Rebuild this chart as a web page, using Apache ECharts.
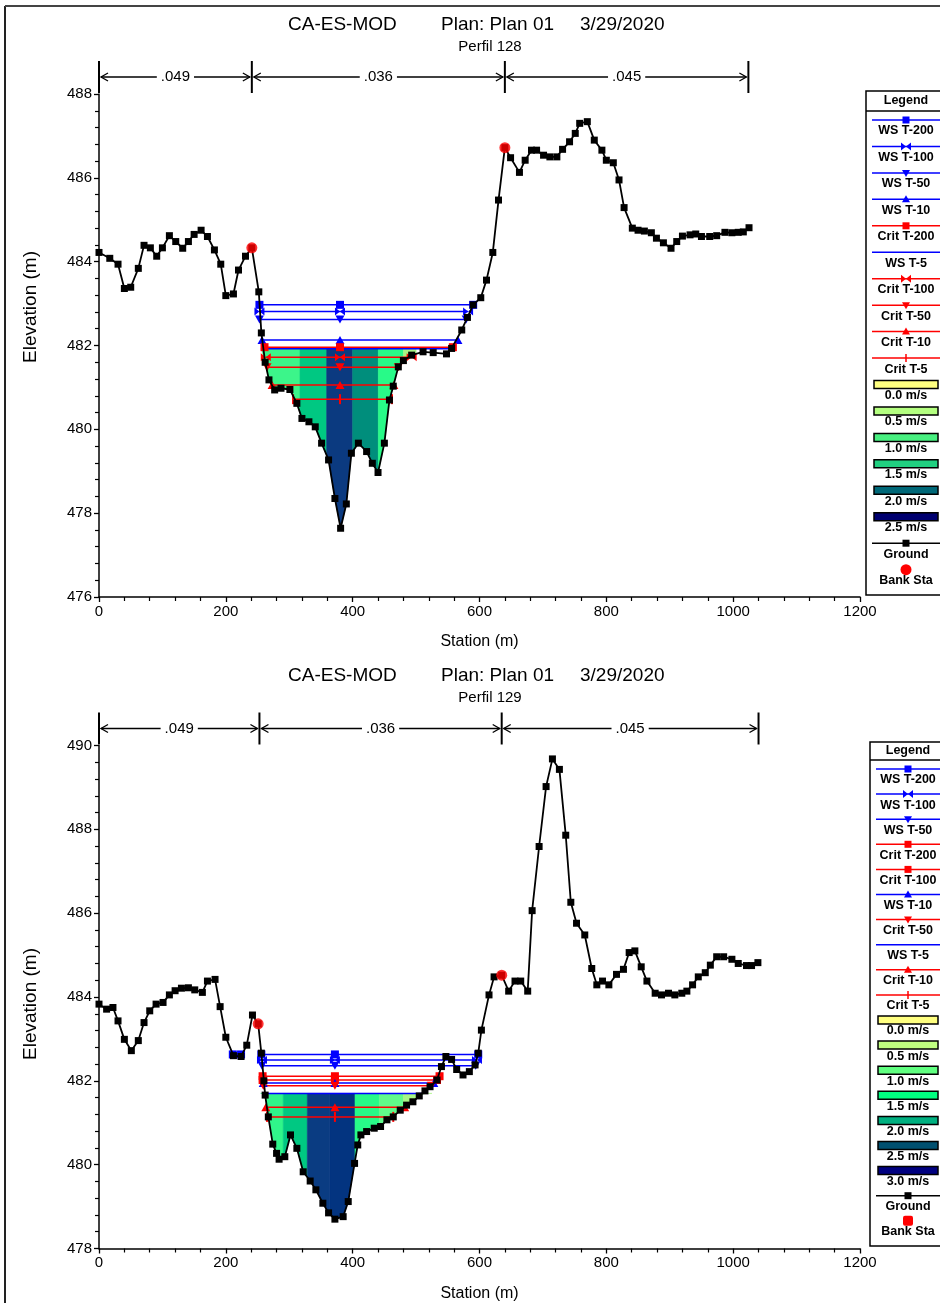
<!DOCTYPE html>
<html><head><meta charset="utf-8">
<script src="https://cdn.jsdelivr.net/npm/echarts@6/dist/echarts.min.js"></script>
<style>html,body{margin:0;padding:0;background:#fff}#c{width:940px;height:1303px}</style>
</head><body><div id="c"></div>
<script>
// ---------------- DATA ----------------
const titleParts = ['CA-ES-MOD', 'Plan: Plan 01', '3/29/2020'];
const subtitles = ['Perfil 128', 'Perfil 129'];
const xAxisName = 'Station (m)';
const yAxisName = 'Elevation (m)';
const xRange = [0, 1200, 200];
const yRangeTop = [476, 488, 2];
const yRangeBot = [478, 490, 2];

// Perfil 128 ground [station, elevation]
const groundTop = [[0,484.22],[17,484.08],[30,483.94],[40,483.36],[50,483.39],[62,483.84],[71,484.39],[81,484.33],[91,484.13],[100,484.33],[111,484.62],[121,484.48],[132,484.32],[141,484.48],[150,484.65],[161,484.75],[171,484.6],[182,484.28],[192,483.94],[200,483.19],[212,483.23],[220,483.8],[231,484.13],[241,484.33],[252,483.28],[256,482.3],[262,481.6],[268,481.18],[277,480.94],[287,480.98],[301,480.95],[312,480.62],[320,480.26],[331,480.18],[341,480.06],[351,479.67],[362,479.27],[372,478.35],[381,477.64],[390,478.22],[398,479.43],[409,479.67],[422,479.47],[431,479.19],[440,478.97],[450,479.67],[458,480.7],[464,481.03],[472,481.49],[480,481.64],[493,481.77],[511,481.85],[527,481.83],[548,481.8],[556,481.93],[572,482.37],[581,482.67],[590,482.97],[602,483.14],[611,483.56],[621,484.22],[630,485.47],[640,486.72],[649,486.48],[663,486.13],[672,486.42],[682,486.66],[690,486.66],[701,486.54],[711,486.5],[722,486.5],[731,486.68],[742,486.86],[751,487.06],[758,487.3],[770,487.34],[781,486.9],[793,486.66],[800,486.42],[811,486.36],[820,485.95],[828,485.29],[841,484.8],[850,484.75],[860,484.73],[871,484.69],[879,484.56],[890,484.45],[902,484.32],[911,484.48],[920,484.61],[932,484.64],[941,484.66],[950,484.6],[963,484.6],[974,484.62],[987,484.7],[998,484.69],[1008,484.7],[1016,484.71],[1025,484.81]];
const bankTop = [[241,484.33],[640,486.72]];
const nStaTop = [0, 241, 640, 1024];
const nValTop = ['.049', '.036', '.045'];
const profNamesTop = ['WS T-200','WS T-100','WS T-50','WS T-10','Crit T-200','WS T-5','Crit T-100','Crit T-50','Crit T-10','Crit T-5'];
const profElevTop  = [482.97, 482.81, 482.62, 482.13, 481.96, 481.92, 481.72, 481.48, 481.06, 480.72];
const profLeftTop  = [253, 253, 253, 257, 261, 262, 263, 265, 273, 306];
const profRightTop = [590, 582, 579, 566, 558, 556, 493, 472, 465, 462];
const profMidTop = 380;
const velLevelTop = 481.92;
const velEdgesTop = [255, 317, 359, 400, 440.5, 480, 500];
const velLegendTop = ['0.0 m/s','0.5 m/s','1.0 m/s','1.5 m/s','2.0 m/s','2.5 m/s'];

// Perfil 129 ground
const groundBot = [[0,483.83],[12,483.71],[22,483.75],[30,483.43],[40,482.99],[51,482.72],[62,482.96],[71,483.39],[80,483.67],[90,483.83],[101,483.87],[111,484.05],[120,484.15],[130,484.21],[141,484.22],[151,484.17],[163,484.11],[171,484.38],[183,484.42],[191,483.77],[200,483.04],[212,482.6],[224,482.58],[233,482.85],[242,483.57],[251,483.36],[256,482.66],[260,482.0],[262,481.66],[267,481.14],[274,480.49],[280,480.27],[284,480.13],[293,480.19],[302,480.71],[312,480.39],[322,479.83],[333,479.61],[342,479.4],[353,479.08],[362,478.85],[372,478.7],[385,478.76],[393,479.12],[403,480.03],[408,480.47],[413,480.71],[422,480.79],[434,480.87],[444,480.91],[454,481.07],[464,481.14],[475,481.3],[485,481.42],[495,481.5],[505,481.64],[514,481.76],[522,481.86],[533,482.02],[540,482.34],[547,482.58],[556,482.51],[564,482.27],[574,482.14],[584,482.22],[593,482.38],[598,482.66],[603,483.21],[615,484.05],[623,484.48],[635,484.52],[646,484.14],[656,484.38],[665,484.38],[676,484.14],[683,486.06],[694,487.59],[705,489.02],[715,489.68],[726,489.43],[736,487.86],[744,486.26],[753,485.76],[766,485.48],[777,484.68],[785,484.29],[794,484.38],[804,484.29],[816,484.54],[827,484.66],[836,485.06],[845,485.1],[855,484.72],[864,484.38],[877,484.09],[887,484.05],[898,484.09],[908,484.05],[919,484.09],[927,484.14],[936,484.29],[945,484.48],[956,484.58],[964,484.76],[974,484.96],[985,484.96],[998,484.9],[1008,484.8],[1021,484.75],[1029,484.75],[1039,484.82]];
const bankBot = [[251,483.36],[635,484.52]];
const nStaBot = [0, 253, 635, 1040];
const nValBot = ['.049', '.036', '.045'];
const profNamesBot = ['WS T-200','WS T-100','WS T-50','Crit T-200','Crit T-100','WS T-10','Crit T-50','WS T-5','Crit T-10','Crit T-5'];
const profElevBot  = [482.63, 482.50, 482.36, 482.11, 482.02, 481.95, 481.88, 481.70, 481.37, 481.14];
const profLeftBot  = [256, 257, 257, 258, 258, 259, 259, 261, 263, 265];
const profRightBot = [598, 596, 594, 537, 533, 528, 524, 509, 482, 464];
const profMidBot = 372;
const pondBot = [[211, 482.63], [224, 482.63]];
const velLevelBot = 481.70;
const velEdgesBot = [255, 290.6, 328.5, 364, 403.7, 442, 480, 525];
const velLegendBot = ['0.0 m/s','0.5 m/s','1.0 m/s','1.5 m/s','2.0 m/s','2.5 m/s','3.0 m/s'];

// ---------------- STYLE ----------------
const FONT = '"Liberation Sans", Arial, sans-serif';
const BLUE = '#0000ff', RED = '#ff0000';
const markerTop = {'WS T-200':'rect','WS T-100':'bowtie','WS T-50':'down','WS T-10':'up','Crit T-200':'rect','WS T-5':'none','Crit T-100':'bowtie','Crit T-50':'down','Crit T-10':'up','Crit T-5':'tick'};
const markerBot = {'WS T-200':'rect','WS T-100':'bowtie','WS T-50':'down','Crit T-200':'rect','Crit T-100':'rect','WS T-10':'up','Crit T-50':'down','WS T-5':'none','Crit T-10':'up','Crit T-5':'tick'};
const bandColorsTop = ['#3cf58a','#00c882','#0b3a80','#008e7c','#28fa88','#a8f585'];
const bandColorsBot = ['#30f58a','#00c882','#0a3c82','#033480','#28fa88','#60fa8a','#a8f585'];
const legendColorsTop = ['#ffff80','#b4ff80','#48f080','#20d080','#006878','#000070'];
const legendColorsBot = ['#ffff80','#c0ff80','#60ff80','#00ff80','#00b080','#005070','#000080'];

const symbolMap = {
  rect: {symbol:'rect', size:8},
  bowtie: {symbol:'path://M0,0L10,6L0,12ZM20,0L10,6L20,12Z', size:[10,8]},
  down: {symbol:'path://M0,0L10,0L5,9Z', size:[9,8]},
  up: {symbol:'triangle', size:[9,8]},
  tick: {symbol:'path://M0,0L2,0L2,12L0,12Z', size:[2,10]},
  none: {symbol:'none', size:0}
};
const colorOf = n => n.indexOf('WS') === 0 ? BLUE : RED;

function interp(g, x) {
  for (let i = 0; i < g.length - 1; i++) {
    if (x >= g[i][0] && x <= g[i+1][0]) {
      const t = (x - g[i][0]) / (g[i+1][0] - g[i][0]);
      return g[i][1] + t * (g[i+1][1] - g[i][1]);
    }
  }
  return g[g.length-1][1];
}

function buildSeries(k, d) {
  const s = [];
  const bands = [];
  for (let i = 0; i < d.edges.length - 1; i++) bands.push([d.edges[i], d.edges[i+1], d.level]);
  s.push({
    type:'custom', xAxisIndex:k, yAxisIndex:k, z:1, silent:true, clip:true,
    data: bands, encode:{x:[0,1], y:2},
    renderItem: function(params, api) {
      const a = api.value(0), b = api.value(1), lv = api.value(2);
      const pts = [api.coord([a, lv]), api.coord([b, lv])];
      pts.push(api.coord([b, Math.min(interp(d.ground, b), lv)]));
      for (let i = d.ground.length - 1; i >= 0; i--) {
        const p = d.ground[i];
        if (p[0] > a && p[0] < b) pts.push(api.coord([p[0], Math.min(p[1], lv)]));
      }
      pts.push(api.coord([a, Math.min(interp(d.ground, a), lv)]));
      const c = d.bandColors[params.dataIndex];
      return {type:'polygon', shape:{points:pts}, style:{fill:c, stroke:c, lineWidth:0.6}};
    }
  });
  d.names.forEach((n, i) => {
    const m = symbolMap[d.markers[n]];
    s.push({
      type:'line', name:n, xAxisIndex:k, yAxisIndex:k, z:3, silent:true,
      data:[[d.left[i], d.elev[i]], [d.mid, d.elev[i]], [d.right[i], d.elev[i]]],
      symbol:m.symbol, symbolSize:m.size, showSymbol:true,
      lineStyle:{color:colorOf(n), width:1.5}, itemStyle:{color:colorOf(n)}
    });
  });
  if (d.pond) {
    s.push({type:'line', xAxisIndex:k, yAxisIndex:k, z:3, silent:true, data:d.pond,
      symbol:'rect', symbolSize:8, lineStyle:{color:BLUE, width:3}, itemStyle:{color:BLUE}});
  }
  s.push({type:'line', name:'Ground', xAxisIndex:k, yAxisIndex:k, z:5, silent:true, data:d.ground,
    symbol:'rect', symbolSize:7, showSymbol:true, lineStyle:{color:'#000', width:1.8}, itemStyle:{color:'#000'}});
  s.push({type:'scatter', name:'Bank Sta', xAxisIndex:k, yAxisIndex:k, z:6, silent:true, data:d.bank,
    symbol:'circle', symbolSize:11, itemStyle:{color:RED}});
  s.push({
    type:'custom', xAxisIndex:k, yAxisIndex:k, z:7, silent:true, clip:false,
    data: d.nSta.map(v => [v, d.yRange[1]]), encode:{x:0, y:1},
    renderItem: function(params, api) {
      const i = params.dataIndex;
      const p = api.coord([api.value(0), api.value(1)]);
      const yl = p[1] - 17;
      const ch = [{type:'line', shape:{x1:p[0], y1:p[1]-33, x2:p[0], y2:p[1]-1}, style:{stroke:'#000', lineWidth:2}}];
      if (i < d.nSta.length - 1) {
        const q = api.coord([d.nSta[i+1], api.value(1)]);
        const x1 = p[0] + 2, x2 = q[0] - 2;
        ch.push({type:'line', shape:{x1:x1, y1:yl, x2:x2, y2:yl}, style:{stroke:'#000', lineWidth:1.3}});
        ch.push({type:'polyline', shape:{points:[[x1+7,yl-4],[x1,yl],[x1+7,yl+4]]}, style:{stroke:'#000', lineWidth:1.3, fill:null}});
        ch.push({type:'polyline', shape:{points:[[x2-7,yl-4],[x2,yl],[x2-7,yl+4]]}, style:{stroke:'#000', lineWidth:1.3, fill:null}});
        ch.push({type:'text', style:{text:d.nVal[i], x:(p[0]+q[0])/2, y:yl, align:'center', verticalAlign:'middle',
          font:'15px ' + FONT, fill:'#000', backgroundColor:'#fff', padding:[0,4]}});
      }
      return {type:'group', children:ch};
    }
  });
  return s;
}

function axisCommon() {
  return {
    axisLine:{show:true, onZero:false, lineStyle:{color:'#000', width:1.5}},
    axisTick:{show:true, inside:false, length:5, lineStyle:{color:'#000', width:1.3}},
    minorTick:{show:true, splitNumber:5, length:4, lineStyle:{color:'#000', width:1.2}},
    splitLine:{show:false}, minorSplitLine:{show:false},
    axisLabel:{color:'#000', fontSize:15, fontFamily:FONT, margin:7, formatter: v => String(v)},
    nameTextStyle:{color:'#000', fontFamily:FONT}
  };
}

function legendGraphics(L) {
  const g = [];
  g.push({type:'rect', shape:{x:L.x, y:L.y, width:120, height:L.h}, style:{fill:'#fff', stroke:'#000', lineWidth:1.5}, z:10});
  g.push({type:'text', style:{text:'Legend', x:L.cx, y:L.headerY, align:'center', verticalAlign:'middle', font:'bold 12.5px ' + FONT, fill:'#000'}, z:11});
  g.push({type:'line', shape:{x1:L.x, y1:L.sepY, x2:940, y2:L.sepY}, style:{stroke:'#000', lineWidth:1.5}, z:11});
  L.entries.forEach((e, i) => {
    const y = L.first + i * L.step;
    const cx = L.cx;
    if (e.kind === 'line') {
      g.push({type:'line', shape:{x1:L.x+6, y1:y, x2:940, y2:y}, style:{stroke:e.color, lineWidth:1.5}, z:11});
      const st = {fill:e.color};
      if (e.marker === 'rect') g.push({type:'rect', shape:{x:cx-3.5, y:y-3.5, width:7, height:7}, style:st, z:12});
      if (e.marker === 'up') g.push({type:'polygon', shape:{points:[[cx-4,y+3],[cx+4,y+3],[cx,y-4]]}, style:st, z:12});
      if (e.marker === 'down') g.push({type:'polygon', shape:{points:[[cx-4,y-3],[cx+4,y-3],[cx,y+4]]}, style:st, z:12});
      if (e.marker === 'bowtie') {
        g.push({type:'polygon', shape:{points:[[cx-5,y-4],[cx,y],[cx-5,y+4]]}, style:st, z:12});
        g.push({type:'polygon', shape:{points:[[cx+5,y-4],[cx,y],[cx+5,y+4]]}, style:st, z:12});
      }
      if (e.marker === 'tick') g.push({type:'line', shape:{x1:cx, y1:y-4, x2:cx, y2:y+4}, style:{stroke:e.color, lineWidth:1.5}, z:12});
    } else if (e.kind === 'swatch') {
      g.push({type:'rect', shape:{x:L.x+8, y:y-4, width:938-(L.x+8), height:8}, style:{fill:e.color, stroke:'#000', lineWidth:1.5}, z:11});
    } else if (e.kind === 'ground') {
      g.push({type:'line', shape:{x1:L.x+6, y1:y, x2:940, y2:y}, style:{stroke:'#000', lineWidth:1.5}, z:11});
      g.push({type:'rect', shape:{x:cx-3.5, y:y-3.5, width:7, height:7}, style:{fill:'#000'}, z:12});
    } else if (e.kind === 'bank') {
      if (e.symbol === 'circle') g.push({type:'circle', shape:{cx:cx, cy:y, r:5.5}, style:{fill:RED}, z:12});
      else g.push({type:'rect', shape:{x:cx-5, y:y-5, width:10, height:10, r:2}, style:{fill:RED}, z:12});
    }
    g.push({type:'text', style:{text:e.name, x:cx, y:y+11, align:'center', verticalAlign:'middle', font:'bold 12.5px ' + FONT, fill:'#000'}, z:12});
  });
  return g;
}

function legendEntries(names, markers, velNames, velColors, bankSymbol) {
  const e = names.map(n => ({kind:'line', name:n, color:colorOf(n), marker:markers[n]}));
  velNames.forEach((n, i) => e.push({kind:'swatch', name:n, color:velColors[i]}));
  e.push({kind:'ground', name:'Ground'});
  e.push({kind:'bank', name:'Bank Sta', symbol:bankSymbol});
  return e;
}

function titleGraphics(y0, sub, yNameY) {
  const f = '19px ' + FONT;
  return [
    {type:'text', style:{text:titleParts[0], x:288, y:y0, verticalAlign:'middle', font:f, fill:'#000'}},
    {type:'text', style:{text:titleParts[1], x:441, y:y0, verticalAlign:'middle', font:f, fill:'#000'}},
    {type:'text', style:{text:titleParts[2], x:580, y:y0, verticalAlign:'middle', font:f, fill:'#000'}},
    {type:'text', style:{text:sub, x:490, y:y0+22, align:'center', verticalAlign:'middle', font:'15px ' + FONT, fill:'#000'}},
    {type:'text', x:31, y:yNameY, rotation:Math.PI/2, style:{text:yAxisName, x:0, y:0, align:'center', verticalAlign:'middle', font:'19px ' + FONT, fill:'#000'}}
  ];
}

const dTop = {ground:groundTop, bank:bankTop, nSta:nStaTop, nVal:nValTop, names:profNamesTop, elev:profElevTop,
  left:profLeftTop, right:profRightTop, mid:profMidTop, markers:markerTop, level:velLevelTop, edges:velEdgesTop, bandColors:bandColorsTop, yRange:yRangeTop};
const dBot = {ground:groundBot, bank:bankBot, nSta:nStaBot, nVal:nValBot, names:profNamesBot, elev:profElevBot,
  left:profLeftBot, right:profRightBot, mid:profMidBot, markers:markerBot, level:velLevelBot, edges:velEdgesBot, bandColors:bandColorsBot, yRange:yRangeBot, pond:pondBot};

const grids = [{left:99, top:94, width:761, height:503}, {left:99, top:745.5, width:761, height:503}];
const xAxes = [0,1].map(k => Object.assign(axisCommon(), {
  type:'value', gridIndex:k, min:xRange[0], max:xRange[1], interval:xRange[2],
  name:xAxisName, nameLocation:'middle', nameGap:37, nameTextStyle:{color:'#000', fontFamily:FONT, fontSize:16}
}));
const yAxes = [yRangeTop, yRangeBot].map((r, k) => Object.assign(axisCommon(), {
  type:'value', gridIndex:k, min:r[0], max:r[1], interval:r[2]
}));

const graphics = [].concat(
  [{type:'line', shape:{x1:5, y1:6, x2:5, y2:1303}, style:{stroke:'#222', lineWidth:2}},
   {type:'line', shape:{x1:5, y1:6, x2:940, y2:6}, style:{stroke:'#444', lineWidth:2}}],
  titleGraphics(25, subtitles[0], 307),
  titleGraphics(676, subtitles[1], 1004),
  legendGraphics({x:866, y:91, h:504, cx:906, headerY:101, sepY:111, first:120, step:26.45,
    entries:legendEntries(profNamesTop, markerTop, velLegendTop, legendColorsTop, 'circle')}),
  legendGraphics({x:870, y:742, h:504, cx:908, headerY:751, sepY:760, first:769, step:25.1,
    entries:legendEntries(profNamesBot, markerBot, velLegendBot, legendColorsBot, 'roundRect')})
);

const chart = echarts.init(document.getElementById('c'));
chart.setOption({
  animation:false,
  backgroundColor:'#fff',
  textStyle:{fontFamily:FONT},
  grid:grids, xAxis:xAxes, yAxis:yAxes,
  series:[].concat(buildSeries(0, dTop), buildSeries(1, dBot)),
  graphic:graphics
});
</script></body></html>
